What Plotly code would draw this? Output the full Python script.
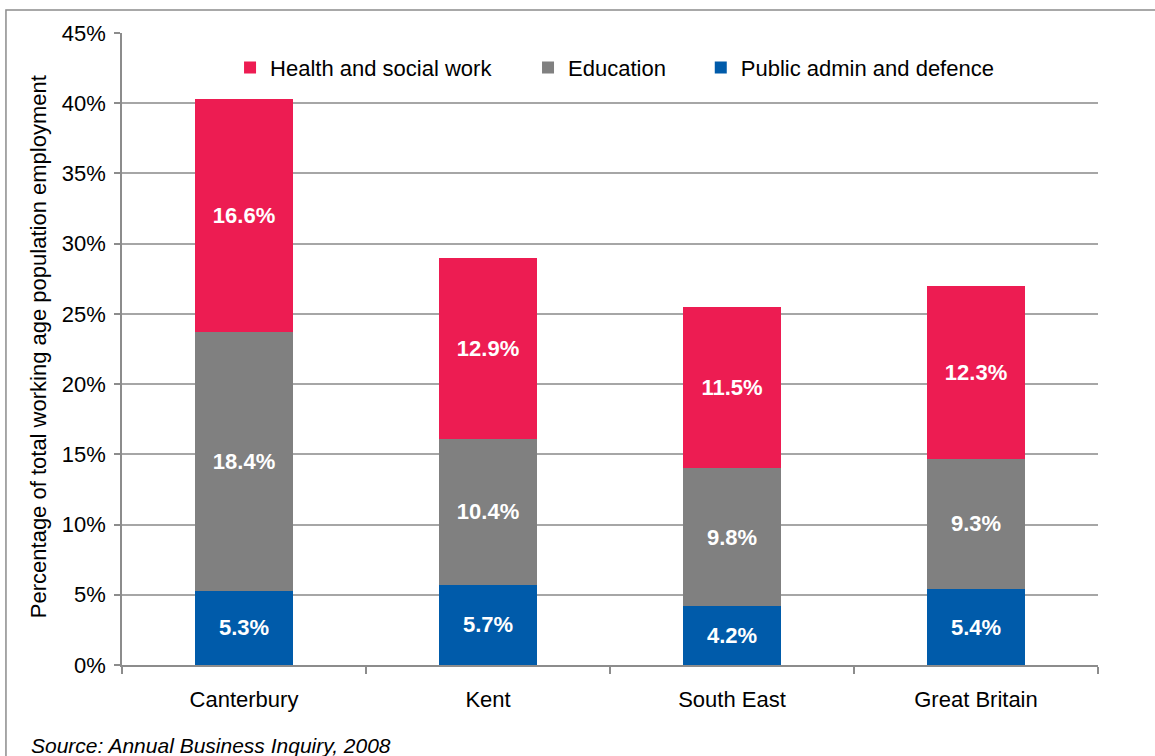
import plotly.graph_objects as go

# Share of total working-age population employment by sector (%)
areas = ["Canterbury", "Kent", "South East", "Great Britain"]
public_admin = [5.3, 5.7, 4.2, 5.4]
education = [18.4, 10.4, 9.8, 9.3]
health_social = [16.6, 12.9, 11.5, 12.3]

y_ticks = [0, 5, 10, 15, 20, 25, 30, 35, 40, 45]
y_tick_labels = [f"{t}%" for t in y_ticks]

FONT = "Liberation Sans, Arial, sans-serif"
FS = 22
COL_HEALTH = "#ED1C52"
COL_EDU = "#808080"
COL_PUBLIC = "#005BAA"

fig = go.Figure()

def add_series(name, values, color, legend_id):
    fig.add_trace(go.Bar(
        x=areas,
        y=values,
        name=name,
        legend=legend_id,
        marker=dict(color=color, line=dict(width=0)),
        text=[f"{v:.1f}%" for v in values],
        textposition="inside",
        insidetextanchor="middle",
        textangle=0,
        textfont=dict(family=FONT, size=FS, color="white", weight="bold"),
        hoverinfo="skip",
    ))

add_series("Public admin and defence", public_admin, COL_PUBLIC, "legend3")
add_series("Education", education, COL_EDU, "legend2")
add_series("Health and social work", health_social, COL_HEALTH, "legend")

def legend_box(x):
    return dict(
        orientation="h",
        x=x,
        y=0.945,
        xanchor="left",
        yanchor="middle",
        font=dict(family=FONT, size=FS, color="black"),
        bgcolor="rgba(0,0,0,0)",
    )

fig.update_layout(
    barmode="stack",
    bargap=0.6,
    width=1155,
    height=756,
    margin=dict(l=122, r=57, t=33, b=91),
    paper_bgcolor="white",
    plot_bgcolor="white",
    font=dict(family=FONT, size=FS, color="black"),
    uniformtext=dict(minsize=FS, mode="show"),
    showlegend=True,
    legend=legend_box(0.1107),
    legend2=legend_box(0.416),
    legend3=legend_box(0.593),
    xaxis=dict(
        type="category",
        showline=True,
        linecolor="#8C8C8C",
        linewidth=1.5,
        ticks="outside",
        tickson="boundaries",
        ticklen=7,
        tickcolor="#8C8C8C",
        tickwidth=1.5,
        showgrid=False,
        tickfont=dict(family=FONT, size=FS, color="black"),
        ticklabelstandoff=14,
    ),
    yaxis=dict(
        range=[0, 45],
        tickvals=y_ticks,
        ticktext=y_tick_labels,
        showline=True,
        linecolor="#8C8C8C",
        linewidth=1.5,
        ticks="outside",
        ticklen=6,
        tickcolor="#8C8C8C",
        tickwidth=1.5,
        showgrid=True,
        gridcolor="#A6A6A6",
        gridwidth=1.5,
        zeroline=False,
        tickfont=dict(family=FONT, size=FS, color="black"),
        ticklabelstandoff=4,
    ),
)

# Axis title, source note and the outer frame
fig.add_annotation(
    text="Percentage of total working age population employment",
    xref="paper", yref="paper",
    x=-0.086, y=0.503,
    xanchor="center", yanchor="middle",
    textangle=-90,
    showarrow=False,
    font=dict(family=FONT, size=FS, color="black"),
)
fig.add_annotation(
    text="<i>Source: Annual Business Inquiry, 2008</i>",
    xref="paper", yref="paper",
    x=-0.095, y=-0.128,
    xanchor="left", yanchor="middle",
    showarrow=False,
    font=dict(family=FONT, size=21, color="black"),
)
fig.add_shape(
    type="rect",
    xref="paper", yref="paper",
    x0=-0.1189, x1=1.08, y0=-0.2, y1=1.0364,
    line=dict(color="#8C8C8C", width=1.5),
    fillcolor="rgba(0,0,0,0)",
    layer="below",
)

fig.write_html("out.html")
